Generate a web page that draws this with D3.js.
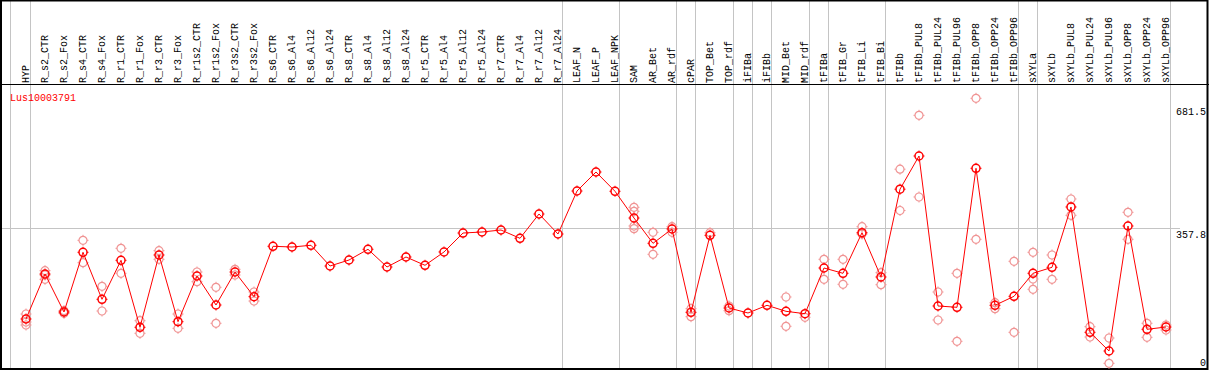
<!DOCTYPE html>
<html>
<head>
<meta charset="utf-8">
<script src="https://cdn.jsdelivr.net/npm/d3@7"></script>
<style>
  body { margin: 0; background: #fff; }
  text { font-family: "Liberation Mono", "DejaVu Sans Mono", monospace; font-size: 10px; }
</style>
</head>
<body>
<div id="container"></div>
<script>
(function(){

    // ------------------------------------------------------------ data
    const geneName = "Lus10003791";

    const columns = [
        "HYP", "R_s2_CTR", "R_s2_Fox", "R_s4_CTR", "R_s4_Fox", "R_r1_CTR", "R_r1_Fox",
        "R_r3_CTR", "R_r3_Fox", "R_r1s2_CTR", "R_r1s2_Fox", "R_r3s2_CTR", "R_r3s2_Fox",
        "R_s6_CTR", "R_s6_Al4", "R_s6_Al12", "R_s6_Al24", "R_s8_CTR", "R_s8_Al4",
        "R_s8_Al12", "R_s8_Al24", "R_r5_CTR", "R_r5_Al4", "R_r5_Al12", "R_r5_Al24",
        "R_r7_CTR", "R_r7_Al4", "R_r7_Al12", "R_r7_Al24", "LEAF_N", "LEAF_P", "LEAF_NPK",
        "SAM", "AR_Bet", "AR_rdf", "cPAR", "TOP_Bet", "TOP_rdf", "iFIBa", "iFIBb",
        "MID_Bet", "MID_rdf", "tFIBa", "tFIB_Gr", "tFIB_Li", "tFIB_Bi", "tFIBb",
        "tFIBb_PUL8", "tFIBb_PUL24", "tFIBb_PUL96", "tFIBb_OPP8", "tFIBb_OPP24",
        "tFIBb_OPP96", "sXYLa", "sXYLb", "sXYLb_PUL8", "sXYLb_PUL24", "sXYLb_PUL96",
        "sXYLb_OPP8", "sXYLb_OPP24", "sXYLb_OPP96"
    ];

    const means = [
        118.4, 236.8, 136.8, 293.9, 170.2, 272.8, 96.6,
        286.8, 111.3, 231.5, 155.2, 242.0, 177.1,
        309.7, 307.8, 312.3, 257.8, 273.6, 301.8,
        255.2, 281.5, 259.7, 294.7, 344.6, 347.3,
        352.5, 330.7, 394.6, 342.0, 455.1, 505.1, 454.4,
        384.1, 317.5, 355.2, 136.0, 338.6, 147.3, 134.2, 154.4,
        138.6, 132.3, 252.6, 238.6, 345.4, 228.9, 459.9,
        547.2, 152.6, 149.2, 514.9, 154.4,
        178.1, 238.6, 254.4, 413.1, 83.4, 34.2,
        363.1, 91.3, 97.3
    ];

    // individual replicate values (light circles)
    const replicates = [
        [131.5, 110.5, 102.6], [245.5, 234.1, 222.8], [140.2, 133.4], [325.4, 266.5],
        [204.4, 139.4], [304.4, 238.6], [113.9, 80.8], [298.1, 275.5], [131.5, 93.9],
        [242.0, 216.5], [201.8, 107.1], [249.1, 234.1], [189.4, 165.7],
        [], [], [], [], [], [], [], [], [], [], [], [], [], [], [], [],
        [], [], [],
        [412.3, 401.7, 363.1, 356.0], [346.5, 288.6], [361.2, 346.5], [145.5, 124.4],
        [345.4], [152.6, 140.2], [], [],
        [176.3, 99.2], [122.9], [275.5, 222.8], [275.5, 209.7], [361.2, 342.0],
        [240.2, 208.6], [512.5, 403.8],
        [654.3, 439.4], [189.4, 115.8], [238.6, 59.7], [699.0, 328.1], [161.3, 145.5],
        [270.2, 83.4], [293.9, 223.6, 196.5], [286.8, 222.8], [434.1, 391.2],
        [98.1, 71.0], [68.4, 1.8], [399.1, 328.1], [107.1, 70.2], [102.6, 89.5]
    ];

    // first column of each sample group (gray separators)
    const groupStarts = ["R_s2_CTR", "LEAF_N", "SAM", "cPAR", "TOP_Bet", "iFIBa",
                         "iFIBb", "MID_Bet", "tFIBa", "tFIB_Gr", "tFIBb", "sXYLa", "sXYLb"];

    const yTicks = [0, 357.8, 681.5];
    const yGrid  = [357.8];

    // ------------------------------------------------------------ layout
    const width = 1209, height = 370;
    const headerBottom = 85;
    const red = "#ff0000";
    const pink = "#f09494";
    const grey = "#c4c4c4";

    const x = d3.scalePoint().domain(columns).range([26, 1166]);
    const y = d3.scaleLinear().domain([0, 357.8]).range([364, 228]);

    const svg = d3.select("#container").append("svg")
        .attr("width", width)
        .attr("height", height)
        .style("display", "block");

    // separators
    const sepX = [10.5]
        .concat(groupStarts.map(c => Math.floor(x(c) - 14.7) + 0.5))
        .concat([Math.floor(x(columns[columns.length - 1]) + 4.3) + 0.5]);

    svg.append("g")
        .selectAll("line")
        .data(sepX)
        .join("line")
        .attr("x1", d => d).attr("x2", d => d)
        .attr("y1", 0).attr("y2", height)
        .attr("stroke", grey)
        .attr("stroke-width", 1);

    svg.append("g")
        .selectAll("line")
        .data(yGrid)
        .join("line")
        .attr("x1", 2).attr("x2", 1180)
        .attr("y1", d => Math.round(y(d)) + 0.5)
        .attr("y2", d => Math.round(y(d)) + 0.5)
        .attr("stroke", grey);

    // column labels
    svg.append("g")
        .selectAll("text")
        .data(columns)
        .join("text")
        .attr("transform", d => `translate(${x(d)},83) rotate(-90)`)
        .attr("dy", "0.32em")
        .attr("fill", "#000")
        .text(d => d);

    // frame
    svg.append("line")
        .attr("x1", 0).attr("x2", width)
        .attr("y1", headerBottom - 0.5).attr("y2", headerBottom - 0.5)
        .attr("stroke", "#000");
    svg.append("rect")
        .attr("x", 1).attr("y", 0.5)
        .attr("width", width - 2.5).attr("height", height - 1.5)
        .attr("fill", "none")
        .attr("stroke", "#000")
        .attr("stroke-width", 2);

    // y labels
    svg.append("g")
        .selectAll("text")
        .data(yTicks)
        .join("text")
        .attr("x", 1206)
        .attr("y", d => Math.min(y(d) + 10, 366))
        .attr("text-anchor", "end")
        .attr("fill", "#000")
        .text(d => d);

    svg.append("text")
        .attr("x", 10)
        .attr("y", 101)
        .attr("fill", red)
        .text(geneName);

    // markers
    function marker(g, color, sw) {
        g.append("circle")
            .attr("r", 4)
            .attr("fill", "none")
            .attr("stroke", color)
            .attr("stroke-width", sw);
        g.append("path")
            .attr("d", "M0,-4V-5.5M0,4V5.5M-4,0H-5.5M4,0H5.5")
            .attr("stroke", color)
            .attr("stroke-width", 1);
    }

    const reps = columns.flatMap((c, i) => replicates[i].map(v => ({c, v})));
    svg.append("g")
        .selectAll("g")
        .data(reps)
        .join("g")
        .attr("transform", d => `translate(${x(d.c)},${y(d.v)})`)
        .each(function() { marker(d3.select(this), pink, 1.2); });

    const line = d3.line()
        .x((d, i) => x(columns[i]))
        .y(d => y(d));

    svg.append("path")
        .datum(means)
        .attr("d", line)
        .attr("fill", "none")
        .attr("stroke", red)
        .attr("stroke-width", 1);

    svg.append("g")
        .selectAll("g")
        .data(means)
        .join("g")
        .attr("transform", (d, i) => `translate(${x(columns[i])},${y(d)})`)
        .each(function() { marker(d3.select(this), red, 1.5); });

})();
</script>
</body>
</html>
